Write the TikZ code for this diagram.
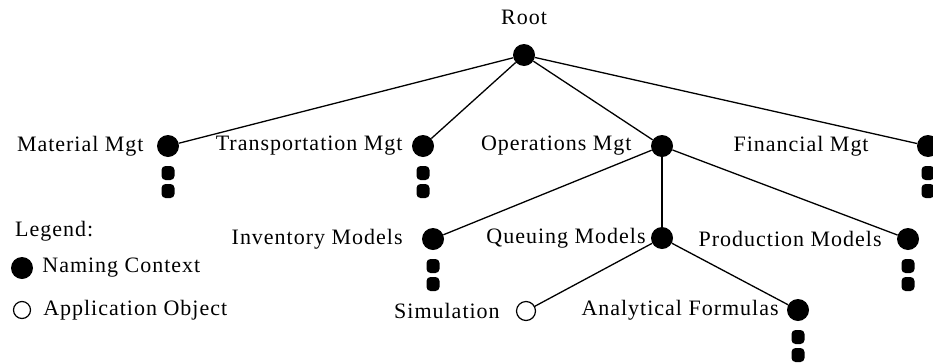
\documentclass[tikz,border=0pt]{standalone}
\usepackage{fontspec}
\setmainfont[LetterSpace=4.5]{Liberation Serif}
\usetikzlibrary{positioning}
\tikzset{
  ctx/.style={circle,fill=black,inner sep=0pt,minimum size=22pt},
  obj/.style={circle,draw=black,line width=1.2pt,fill=white,inner sep=0pt,minimum size=19pt},
  more/.style={rectangle,rounded corners=4pt,fill=black,inner sep=0pt,minimum width=13pt,minimum height=14pt},
  lbl/.style={font=\fontsize{22}{26}\selectfont,inner sep=0pt},
  edge/.style={line width=1.3pt}
}
\begin{document}
\begin{tikzpicture}[x=1pt,y=-1pt]
\useasboundingbox[fill=white](0,0) rectangle (933,362);
% tree nodes
\node[ctx] (root) at (524,55) {};
\node[lbl,above=19pt of root] (rootlbl) {Root};
\node[ctx] (mat) at (168,146) {};
\node[ctx] (trans) at (423,146) {};
\node[ctx] (ops) at (662,146) {};
\node[ctx] (fin) at (928,146) {};
\node[ctx] (inv) at (433,239) {};
\node[ctx] (que) at (662,238) {};
\node[ctx] (prod) at (908,239) {};
\node[obj] (sim) at (526,311) {};
\node[ctx] (ana) at (798,310) {};
% labels
\node[lbl,left=13pt of mat] (matlbl) {Material Mgt};
\node[lbl,left=9pt of trans] (translbl) {Transportation Mgt};
\node[lbl,left=19pt of ops] (opslbl) {Operations Mgt};
\node[lbl,left=48pt of fin] (finlbl) {Financial Mgt};
\node[lbl,left=19pt of inv] (invlbl) {Inventory Models};
\node[lbl,left=5pt of que] (quelbl) {Queuing Models};
\node[lbl,left=15pt of prod] (prodlbl) {Production Models};
\node[lbl,left=16pt of sim] (simlbl) {Simulation};
\node[lbl,left=8pt of ana] (analbl) {Analytical Formulas};
% dots below
\foreach \n in {mat,trans,fin,inv,prod,ana}{
  \node[more] at ([yshift=-27pt]\n) {};
  \node[more] at ([yshift=-45pt]\n) {};
}
% edges
\draw[edge] (root) -- (mat);
\draw[edge] (root) -- (trans);
\draw[edge] (root) -- (ops);
\draw[edge] (root) -- (fin);
\draw[edge] (ops) -- (inv);
\draw[edge] (ops) -- (que);
\draw[edge] (ops) -- (prod);
\draw[edge] (que) -- (sim);
\draw[edge] (que) -- (ana);
% legend
\node[lbl,anchor=west] (leg) at (15,231) {Legend:};
\node[ctx] (legctx) at (22,268) {};
\node[lbl,right=9pt of legctx] (ctxlbl) {Naming Context};
\node[obj,minimum size=17pt] (legobj) at (22,310) {};
\node[lbl,right=12pt of legobj] (objlbl) {Application Object};
\end{tikzpicture}
\end{document}
